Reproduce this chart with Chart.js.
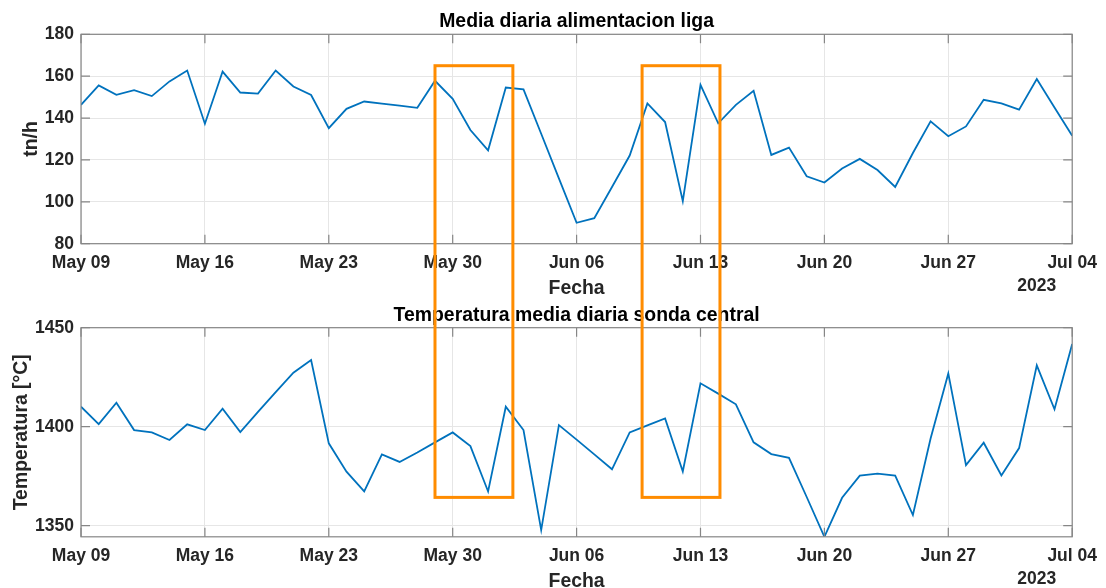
<!DOCTYPE html>
<html>
<head>
<meta charset="utf-8">
<script src="https://cdn.jsdelivr.net/npm/chart.js@4.4.1/dist/chart.umd.min.js"></script>
<style>
  html, body { margin: 0; padding: 0; background: #ffffff; }
  #lienzo { position: relative; width: 1106px; height: 588px; overflow: hidden; }
  #lienzo canvas { position: absolute; left: 0; top: 0; }
</style>
</head>
<body>
<div id="lienzo">
  <canvas id="graficoAlimentacion" width="1106" height="588" style="z-index:1"></canvas>
  <canvas id="graficoTemperatura" width="1106" height="588" style="z-index:2"></canvas>
</div>
<script>
// Fechas diarias del periodo
const fechas = [
  '2023-05-09','2023-05-10','2023-05-11','2023-05-12','2023-05-13','2023-05-14','2023-05-15',
  '2023-05-16','2023-05-17','2023-05-18','2023-05-19','2023-05-20','2023-05-21','2023-05-22',
  '2023-05-23','2023-05-24','2023-05-25','2023-05-26','2023-05-27','2023-05-28','2023-05-29',
  '2023-05-30','2023-05-31','2023-06-01','2023-06-02','2023-06-03','2023-06-04','2023-06-05',
  '2023-06-06','2023-06-07','2023-06-08','2023-06-09','2023-06-10','2023-06-11','2023-06-12',
  '2023-06-13','2023-06-14','2023-06-15','2023-06-16','2023-06-17','2023-06-18','2023-06-19',
  '2023-06-20','2023-06-21','2023-06-22','2023-06-23','2023-06-24','2023-06-25','2023-06-26',
  '2023-06-27','2023-06-28','2023-06-29','2023-06-30','2023-07-01','2023-07-02','2023-07-03',
  '2023-07-04'
];

// Media diaria de alimentación de liga [tn/h]
const alimentacion = [
  146.3, 155.6, 151.1, 153.3, 150.5, 157.5, 162.7,
  137.3, 162.2, 152.2, 151.7, 162.7, 155.1, 151.0,
  135.2, 144.4, 147.9, 146.9, 145.9, 144.9, 157.8,
  149.2, 134.3, 124.6, 154.6, 153.7, 132.5, 111.2,
  90.0, 92.2, 107.1, 122.1, 147.0, 138.1, 100.3,
  155.9, 137.5, 146.3, 153.0, 122.4, 125.9, 112.2,
  109.2, 115.9, 120.5, 115.2, 107.1, 123.3, 138.4,
  131.3, 136.0, 148.7, 147.0, 144.0, 158.6, 145.0,
  131.6
];

// Temperatura media diaria de la sonda central [°C]
const temperatura = [
  1410.1, 1401.3, 1412.1, 1398.3, 1397.1, 1393.3, 1401.2,
  1398.3, 1409.1, 1397.3, 1407.5, 1417.5, 1427.3, 1433.7,
  1391.6, 1377.3, 1367.3, 1386.0, 1382.2, 1387.0, 1392.1,
  1397.1, 1390.2, 1367.3, 1410.1, 1398.3, 1347.8, 1400.8,
  1393.5, 1386.0, 1378.5, 1397.1, 1400.7, 1404.2, 1377.4,
  1421.9, 1416.7, 1411.3, 1392.1, 1386.2, 1384.3, 1364.5,
  1344.4, 1364.1, 1375.3, 1376.3, 1375.3, 1355.4, 1394.0,
  1426.9, 1380.6, 1391.9, 1375.4, 1389.2, 1431.0, 1408.8,
  1441.8
];

// Marcas del eje de fechas
const marcasFecha = ['2023-05-09','2023-05-16','2023-05-23','2023-05-30','2023-06-06',
                     '2023-06-13','2023-06-20','2023-06-27','2023-07-04'];
const etiquetasFecha = ['May 09','May 16','May 23','May 30','Jun 06',
                        'Jun 13','Jun 20','Jun 27','Jul 04'];

// Marcas de los ejes verticales
const marcasAlimentacion = [80, 100, 120, 140, 160, 180];
const marcasTemperatura = [1350, 1400, 1450];

// Recuadros resaltados: días desde el inicio, techo en tn/h y piso en °C
const recuadroDesde = [20.0, 31.7];
const recuadroHasta = [24.4, 36.1];
const recuadroTecho = 165;
const recuadroPiso = 1364.3;

const DIA_MS = 86400000;
const dia = f => (Date.parse(f) - Date.parse(fechas[0])) / DIA_MS;
const diasMarca = marcasFecha.map(dia);
const anio = fechas[fechas.length - 1].slice(0, 4);

const fuente = "'Liberation Sans', Arial, Helvetica, sans-serif";
const tinta = '#262626';
const azul = '#0072BD';

function serie(valores) {
  return fechas.map((f, i) => ({ x: dia(f), y: valores[i] }));
}

// Caja, marcas interiores y textos de cada eje
function marcoEjes(cfg) {
  return {
    id: 'marcoEjes',
    afterDraw(chart) {
      const { ctx, chartArea: a, scales: { x, y } } = chart;
      ctx.save();
      ctx.strokeStyle = '#868686';
      ctx.lineWidth = 1.2;
      ctx.strokeRect(a.left, a.top, a.right - a.left, a.bottom - a.top);
      const largo = 9;
      ctx.beginPath();
      x.ticks.forEach(t => {
        const px = x.getPixelForValue(t.value);
        ctx.moveTo(px, a.bottom); ctx.lineTo(px, a.bottom - largo);
        ctx.moveTo(px, a.top); ctx.lineTo(px, a.top + largo);
      });
      y.ticks.forEach(t => {
        const py = y.getPixelForValue(t.value);
        ctx.moveTo(a.left, py); ctx.lineTo(a.left + largo, py);
        ctx.moveTo(a.right, py); ctx.lineTo(a.right - largo, py);
      });
      ctx.stroke();

      const cx = (a.left + a.right) / 2;
      ctx.textBaseline = 'alphabetic';
      ctx.textAlign = 'center';
      ctx.fillStyle = '#000000';
      ctx.font = `bold 19.4px ${fuente}`;
      ctx.fillText(cfg.titulo, cx, a.top - 7);

      ctx.fillStyle = tinta;
      ctx.fillText('Fecha', cx, a.bottom + 50.3);

      ctx.font = `bold 17.5px ${fuente}`;
      ctx.textAlign = 'right';
      ctx.fillText(anio, a.right - 16, a.bottom + 47.3);

      ctx.save();
      ctx.translate(cfg.ejeYx, (a.top + a.bottom) / 2);
      ctx.rotate(-Math.PI / 2);
      ctx.textAlign = 'center';
      ctx.font = `bold 19.4px ${fuente}`;
      ctx.fillText(cfg.ejeY, 0, 0);
      ctx.restore();
      ctx.restore();
    }
  };
}

function opciones(cfg) {
  return {
    responsive: false,
    animation: false,
    devicePixelRatio: 1,
    layout: { padding: cfg.relleno },
    plugins: { legend: { display: false }, tooltip: { enabled: false }, title: { display: false } },
    elements: { point: { radius: 0 }, line: { tension: 0 } },
    scales: {
      x: {
        type: 'linear',
        min: 0,
        max: dia(fechas[fechas.length - 1]),
        afterBuildTicks: s => { s.ticks = diasMarca.map(v => ({ value: v })); },
        afterFit: s => { s.height = 40; },
        grid: { color: '#e6e6e6', lineWidth: 1, drawTicks: false },
        border: { display: false },
        ticks: {
          autoSkip: false,
          maxRotation: 0,
          padding: 9,
          color: tinta,
          font: { family: fuente, size: 17.5, weight: 'bold' },
          callback: v => etiquetasFecha[diasMarca.indexOf(v)]
        }
      },
      y: {
        type: 'linear',
        min: cfg.min,
        max: cfg.max,
        afterBuildTicks: s => { s.ticks = cfg.marcas.map(v => ({ value: v })); },
        afterFit: s => { s.width = 81; },
        grid: { color: '#e6e6e6', lineWidth: 1, drawTicks: false },
        border: { display: false },
        ticks: {
          padding: 7,
          color: tinta,
          font: { family: fuente, size: 17.5, weight: 'bold' },
          callback: v => String(v)
        }
      }
    }
  };
}

const graficoAlimentacion = new Chart(document.getElementById('graficoAlimentacion'), {
  type: 'line',
  data: {
    datasets: [{ data: serie(alimentacion), borderColor: azul, borderWidth: 1.8, fill: false }]
  },
  options: opciones({
    relleno: { left: 0, right: 33.5, top: 34.3, bottom: 588 - 243.7 - 40 },
    min: marcasAlimentacion[0],
    max: marcasAlimentacion[marcasAlimentacion.length - 1],
    marcas: marcasAlimentacion
  }),
  plugins: [marcoEjes({ titulo: 'Media diaria alimentacion liga', ejeY: 'tn/h', ejeYx: 37.4 })]
});

// Recuadros naranjas que abarcan ambos gráficos
const recuadros = {
  id: 'recuadros',
  afterDraw(chart) {
    const { ctx } = chart;
    const yTecho = graficoAlimentacion.scales.y.getPixelForValue(recuadroTecho);
    const yPiso = chart.scales.y.getPixelForValue(recuadroPiso);
    ctx.save();
    ctx.strokeStyle = '#ff8c00';
    ctx.lineWidth = 3;
    recuadroDesde.forEach((d, i) => {
      const x0 = chart.scales.x.getPixelForValue(d);
      const x1 = chart.scales.x.getPixelForValue(recuadroHasta[i]);
      ctx.strokeRect(x0, yTecho, x1 - x0, yPiso - yTecho);
    });
    ctx.restore();
  }
};

const graficoTemperatura = new Chart(document.getElementById('graficoTemperatura'), {
  type: 'line',
  data: {
    datasets: [{ data: serie(temperatura), borderColor: azul, borderWidth: 1.8, fill: false }]
  },
  options: opciones({
    relleno: { left: 0, right: 33.5, top: 327.7, bottom: 588 - 536.8 - 40 },
    min: Math.min(...temperatura),
    max: marcasTemperatura[marcasTemperatura.length - 1],
    marcas: marcasTemperatura
  }),
  plugins: [marcoEjes({ titulo: 'Temperatura media diaria sonda central', ejeY: 'Temperatura [°C]', ejeYx: 26.7 }), recuadros]
});
</script>
</body>
</html>
